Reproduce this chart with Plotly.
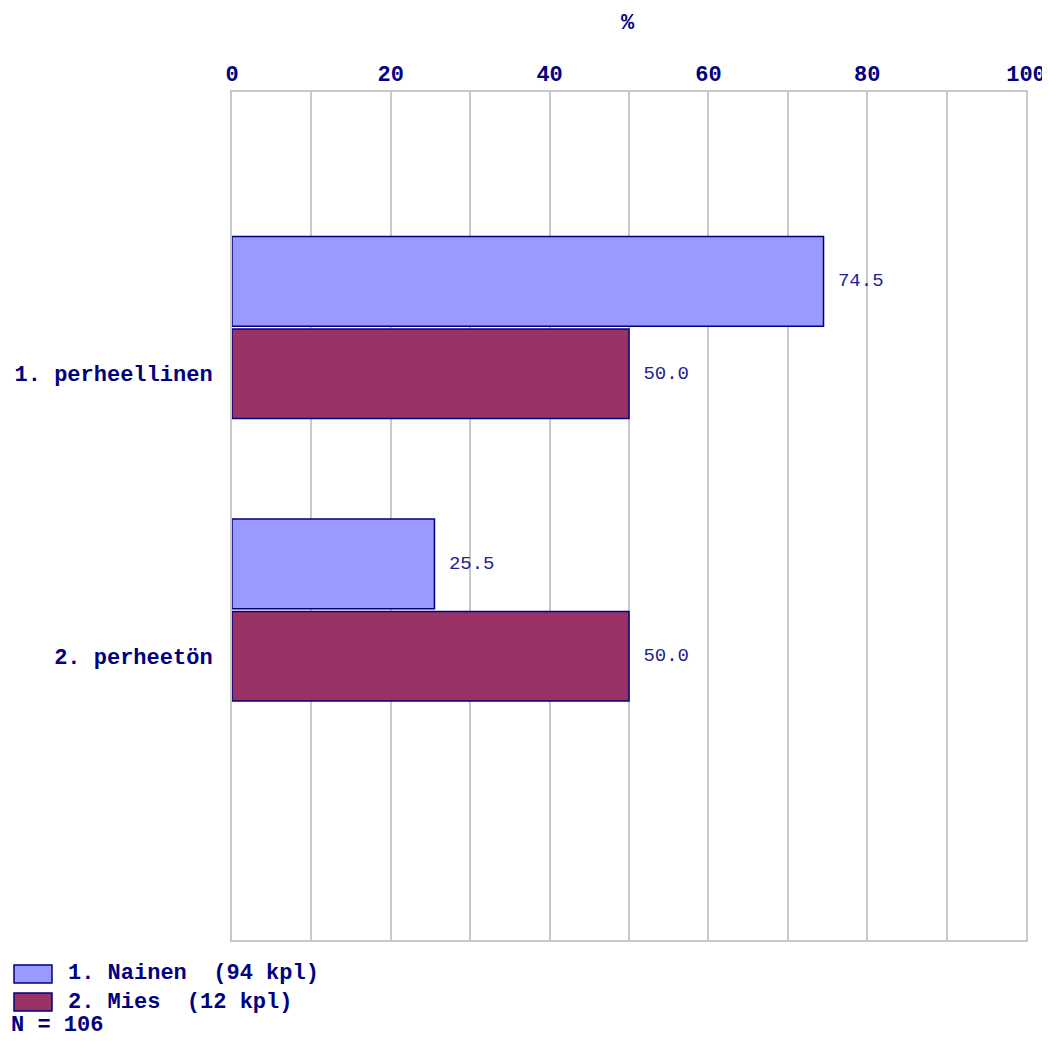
import plotly.graph_objects as go

# data
categories = ["1. perheellinen", "2. perheetön"]
series_names = ["1. Nainen  (94 kpl)", "2. Mies  (12 kpl)"]
nainen = [74.5, 25.5]
mies = [50.0, 50.0]
n_total = 106
axis_title = "%"

colors = ["#9999FF", "#993366"]
navy = "#000080"
grid = "#C8C8C8"
bold_font = dict(family="Liberation Mono", size=22, color=navy, weight="bold")
val_font = dict(family="Liberation Mono", size=19, color="#1E1E96")

# the page body has an 8px margin; keep the figure inside the window
OFF = 8
W, H = 1050 - OFF, 1047 - 2 * OFF
L, R, T = 232 - OFF, 24, 92 - OFF
B = H - (940 - OFF)
pw, ph = W - L - R, H - T - B

pos = list(range(len(categories)))
fig = go.Figure()
for name, vals, col in zip(series_names, [nainen, mies], colors):
    fig.add_trace(go.Bar(
        x=vals, y=pos, orientation="h", name=name,
        marker=dict(color=col, line=dict(color=navy, width=1.5)),
        text=["\u00a0" + f"{v:.1f}" for v in vals],
        textposition="outside", textfont=val_font, cliponaxis=False,
        hoverinfo="skip",
    ))

# custom legend below the plot (positions in reference pixels)
def px_x(x):
    return (x - OFF - L) / pw

def px_y(y):
    return (T + ph - (y - OFF)) / ph

for i, (name, col) in enumerate(zip(series_names, colors)):
    yc = 974 + i * 28
    fig.add_shape(type="rect", xref="paper", yref="paper",
                  x0=px_x(14), x1=px_x(52), y0=px_y(yc + 9), y1=px_y(yc - 9),
                  fillcolor=col, line=dict(color=navy, width=1.5))
    fig.add_annotation(xref="paper", yref="paper", x=px_x(66), y=px_y(yc),
                       text=name, showarrow=False, xanchor="left", yanchor="middle",
                       font=bold_font)
fig.add_annotation(xref="paper", yref="paper", x=px_x(10), y=px_y(1039),
                   text=f"N = {n_total}", showarrow=False, xanchor="left", yanchor="bottom",
                   borderpad=0, font=bold_font)
fig.add_annotation(xref="paper", yref="paper", x=px_x(628), y=px_y(24),
                   text=axis_title, showarrow=False, xanchor="center", yanchor="middle",
                   font=bold_font)

fig.update_layout(
    width=W, height=H,
    margin=dict(l=L, r=R, t=T, b=B, autoexpand=False),
    paper_bgcolor="white", plot_bgcolor="white",
    barmode="group", bargap=0.346, bargroupgap=0.03,
    showlegend=False,
    xaxis=dict(
        side="top", range=[0, 100], dtick=20, tick0=0, automargin=False,
        ticklabeloverflow="allow",
        showgrid=True, gridcolor=grid, gridwidth=2,
        minor=dict(dtick=10, showgrid=True, gridcolor=grid, gridwidth=2),
        showline=True, linecolor=grid, linewidth=2, mirror=True,
        zeroline=False, ticks="", tickfont=bold_font, ticklabelstandoff=0,
    ),
    yaxis=dict(
        range=[2.168, -0.834], autorange=False, automargin=False,
        tickmode="array", tickvals=[p + 0.1635 for p in pos], ticktext=categories,
        showgrid=False, zeroline=False, ticks="",
        showline=True, linecolor=grid, linewidth=2, mirror=True,
        tickfont=bold_font, ticklabelstandoff=13,
    ),
)

fig.write_html("out.html")
